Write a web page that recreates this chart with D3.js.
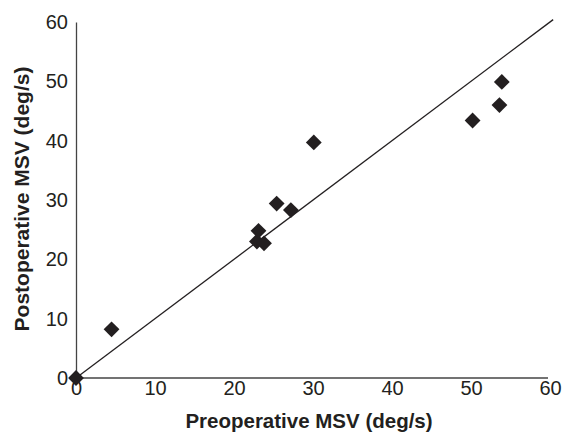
<!DOCTYPE html>
<html>
<head>
<meta charset="utf-8">
<script src="https://cdn.jsdelivr.net/npm/d3@7"></script>
<style>
  body { margin: 0; background: #fff; }
  svg { font-family: "Liberation Sans", Arial, sans-serif; }
</style>
</head>
<body>
<script>
var preMSV  = [0, 4.5, 22.9, 23.8, 23.1, 25.4, 27.2, 30.1, 50.2, 53.6, 53.9]
var postMSV = [0, 8.2, 23.0, 22.7, 24.8, 29.4, 28.3, 39.7, 43.4, 46.0, 49.9]
var xTicks = [0, 10, 20, 30, 40, 50, 60]
var yTicks = [0, 10, 20, 30, 40, 50, 60]
var xTitle = 'Preoperative MSV (deg/s)'
var yTitle = 'Postoperative MSV (deg/s)'

var width = 574
var height = 442
// plot edges in pixels (note: "top" is taken by window.top)
var padLeft = 76, padRight = 550, padTop = 22, padBottom = 378
var ink = '#231f20'

var svg = d3.select('body').append('svg')
  .attr('width', width)
  .attr('height', height)

var xScale = d3.scaleLinear().domain([0, 60]).range([padLeft, padRight])
var yScale = d3.scaleLinear().domain([0, 60]).range([padBottom, padTop])

// axes, no tick marks
var xAxis = d3.axisBottom(xScale).tickValues(xTicks).tickSize(0).tickPadding(3)
var yAxis = d3.axisLeft(yScale).tickValues(yTicks).tickSize(0).tickPadding(8)

var gx = svg.append('g')
  .attr('transform', 'translate(0,' + padBottom + ')')
  .call(xAxis)
gx.select('.domain').attr('d', 'M' + padLeft + ',0H' + (padRight - 2))

var gy = svg.append('g')
  .attr('transform', 'translate(' + padLeft + ',0)')
  .call(yAxis)

svg.selectAll('.domain').attr('stroke', '#444').attr('stroke-width', 1.3)
svg.selectAll('.tick text')
  .attr('font-size', 20)
  .attr('fill', ink)
  .style('font-family', '"Liberation Sans", Arial, sans-serif')

// line of identity
svg.append('line')
  .attr('x1', xScale(0)).attr('y1', yScale(0))
  .attr('x2', xScale(60.4)).attr('y2', yScale(60.4))
  .attr('stroke', ink)
  .attr('stroke-width', 1.3)

// points
var diamond = d3.symbol().type(d3.symbolSquare).size(125)
svg.selectAll('path.pt')
  .data(preMSV)
  .enter()
  .append('path')
  .attr('class', 'pt')
  .attr('d', diamond)
  .attr('transform', (d, i) => 'translate(' + xScale(d) + ',' + yScale(postMSV[i]) + ') rotate(45)')
  .attr('fill', ink)

// titles
svg.append('text')
  .attr('x', 309)
  .attr('y', 428)
  .attr('text-anchor', 'middle')
  .attr('font-size', 20.5)
  .attr('font-weight', 'bold')
  .attr('fill', ink)
  .text(xTitle)

svg.append('text')
  .attr('transform', 'translate(29,199) rotate(-90)')
  .attr('text-anchor', 'middle')
  .attr('font-size', 21)
  .attr('font-weight', 'bold')
  .attr('fill', ink)
  .text(yTitle)
</script>
</body>
</html>
